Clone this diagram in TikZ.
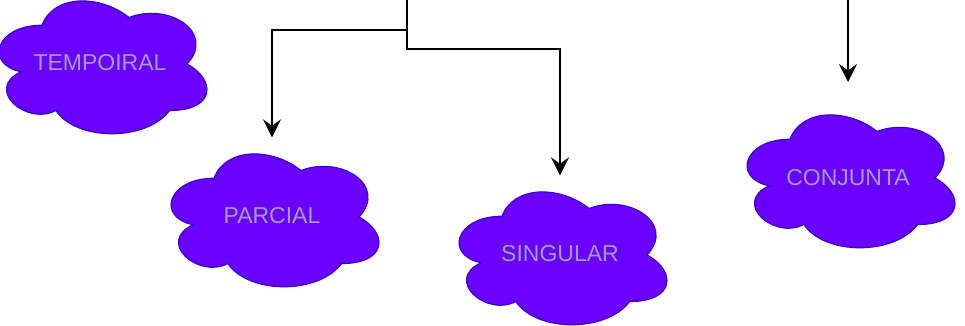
\documentclass[tikz,border=0pt]{standalone}
\usepackage{fontspec}
\setmainfont{Liberation Sans}
\usetikzlibrary{arrows.meta}
\definecolor{cloudfill}{HTML}{6A00FF}
\definecolor{cloudline}{HTML}{3700CC}
\definecolor{cloudtext}{RGB}{165,155,190}
\tikzset{
  cloudshape/.pic={
    \begin{scope}[x=232pt, y=-155pt]
      \filldraw[fill=cloudfill, draw=cloudline, line width=1.2pt]
        (-0.25,-0.25) .. controls (-0.45,-0.25) and (-0.5,0) .. (-0.34,0.05)
        .. controls (-0.5,0.16) and (-0.32,0.4) .. (-0.19,0.3)
        .. controls (-0.1,0.5) and (0.2,0.5) .. (0.3,0.3)
        .. controls (0.5,0.3) and (0.5,0.1) .. (0.375,0)
        .. controls (0.5,-0.2) and (0.3,-0.4) .. (0.125,-0.3)
        .. controls (0,-0.45) and (-0.2,-0.45) .. (-0.25,-0.25) -- cycle;
    \end{scope}
  },
  cloudbox/.style={minimum width=232pt, minimum height=155pt, inner sep=0pt,
    font=\fontsize{23}{27}\selectfont, text=cloudtext},
  conn/.style={line width=1.6pt, draw=black, -{Stealth[length=18pt,width=18pt,inset=6.5pt]}}
}
\begin{document}
\begin{tikzpicture}[x=1pt,y=-1pt]
\useasboundingbox (0,0) rectangle (965,325);
\pic at (100,64) {cloudshape};
\pic at (272,217) {cloudshape};
\pic at (560,255) {cloudshape};
\pic at (848,178) {cloudshape};
\node[cloudbox] (tempoiral) at (100,63) {TEMPOIRAL};
\node[cloudbox] (parcial) at (272,216) {PARCIAL};
\node[cloudbox] (singular) at (560,254) {SINGULAR};
\node[cloudbox] (conjunta) at (848,178) {CONJUNTA};
\coordinate (src1) at (407,0);
\coordinate (j1) at (407,30);
\coordinate (j2) at (407,49);
\coordinate (src2) at (848,0);
\coordinate (t3) at (848,82);
\draw[conn] (src1) -- (j1) -| ([yshift=1pt]parcial.north);
\draw[conn] (j1) -- (j2) -| ([yshift=1pt]singular.north);
\draw[conn] (src2) -- (t3);
\end{tikzpicture}
\end{document}
